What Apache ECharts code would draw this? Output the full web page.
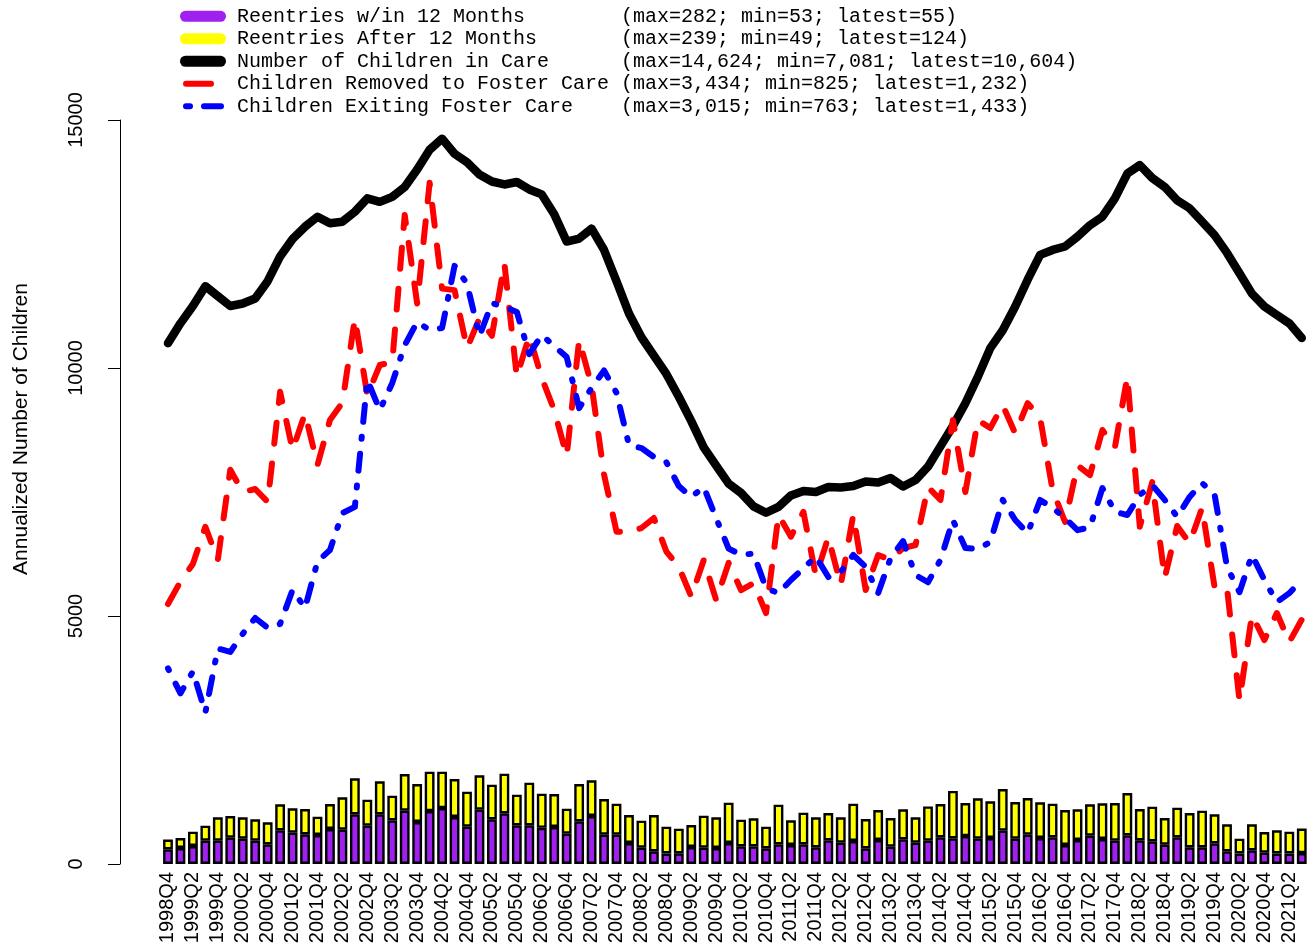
<!DOCTYPE html>
<html>
<head>
<meta charset="utf-8">
<script src="https://cdn.jsdelivr.net/npm/echarts@6/dist/echarts.min.js"></script>
<style>
  html, body { margin: 0; padding: 0; background: #fff; }
  #chart { width: 1308px; height: 949px; }
</style>
</head>
<body>
<div id="chart"></div>
<script>
// 季度
const quarters = [
  '1998Q4',
  '1999Q1', '1999Q2', '1999Q3', '1999Q4', '2000Q1', '2000Q2', '2000Q3', '2000Q4',
  '2001Q1', '2001Q2', '2001Q3', '2001Q4', '2002Q1', '2002Q2', '2002Q3', '2002Q4',
  '2003Q1', '2003Q2', '2003Q3', '2003Q4', '2004Q1', '2004Q2', '2004Q3', '2004Q4',
  '2005Q1', '2005Q2', '2005Q3', '2005Q4', '2006Q1', '2006Q2', '2006Q3', '2006Q4',
  '2007Q1', '2007Q2', '2007Q3', '2007Q4', '2008Q1', '2008Q2', '2008Q3', '2008Q4',
  '2009Q1', '2009Q2', '2009Q3', '2009Q4', '2010Q1', '2010Q2', '2010Q3', '2010Q4',
  '2011Q1', '2011Q2', '2011Q3', '2011Q4', '2012Q1', '2012Q2', '2012Q3', '2012Q4',
  '2013Q1', '2013Q2', '2013Q3', '2013Q4', '2014Q1', '2014Q2', '2014Q3', '2014Q4',
  '2015Q1', '2015Q2', '2015Q3', '2015Q4', '2016Q1', '2016Q2', '2016Q3', '2016Q4',
  '2017Q1', '2017Q2', '2017Q3', '2017Q4', '2018Q1', '2018Q2', '2018Q3', '2018Q4',
  '2019Q1', '2019Q2', '2019Q3', '2019Q4', '2020Q1', '2020Q2', '2020Q3', '2020Q4',
  '2021Q1', '2021Q2', '2021Q3'
];

// 12个月内再入（年化）
const reentriesWithin = [
  296, 323, 363, 470, 470, 531, 511, 470, 396, 679,
  632, 598, 585, 706, 692, 1001, 773, 1001, 880, 1075,
  847, 1068, 1128, 948, 753, 1095, 900, 1021, 780, 780,
  730, 746, 612, 860, 968, 591, 591, 423, 329, 255,
  212, 215, 343, 329, 323, 423, 356, 356, 316, 396,
  383, 396, 336, 477, 430, 464, 316, 484, 349, 497,
  430, 470, 538, 517, 564, 511, 524, 672, 511, 591,
  524, 538, 383, 484, 571, 504, 470, 578, 477, 457,
  390, 538, 336, 336, 417, 255, 212, 276, 228, 212,
  212, 220
];

// 12个月后再入（年化）
const reentriesAfter = [
  196, 201, 289, 303, 471, 437, 430, 430, 444, 524,
  490, 511, 369, 504, 652, 726, 524, 666, 498, 739,
  766, 793, 733, 766, 705, 692, 700, 800, 618, 860,
  688, 665, 504, 753, 719, 719, 625, 565, 545, 733,
  541, 497, 443, 645, 618, 814, 538, 565, 437, 800,
  497, 639, 605, 551, 511, 752, 591, 605, 578, 605,
  511, 690, 672, 956, 666, 813, 739, 840, 739, 740,
  719, 678, 706, 618, 632, 719, 760, 853, 632, 699,
  537, 598, 692, 739, 584, 545, 299, 524, 417, 467,
  440, 496
];

// 在册儿童数
const childrenInCare = [
  10500, 10900, 11250, 11650, 11450, 11250, 11300, 11400, 11750, 12250,
  12600, 12850, 13050, 12920, 12950, 13150, 13420, 13350, 13450, 13650,
  14000, 14400, 14624, 14320, 14150, 13900, 13760, 13700, 13750, 13600,
  13500, 13100, 12550, 12610, 12810, 12380, 11750, 11100, 10620, 10250,
  9880, 9420, 8930, 8400, 8030, 7670, 7480, 7210, 7081, 7200,
  7430, 7520, 7500, 7600, 7590, 7620, 7710, 7690, 7780, 7610,
  7740, 8010, 8420, 8830, 9290, 9820, 10400, 10760, 11240, 11780,
  12280, 12380, 12450, 12650, 12880, 13050, 13420, 13920, 14090, 13830,
  13650, 13380, 13220, 12950, 12680, 12320, 11910, 11500, 11240, 11070,
  10900, 10604
];

// 进入寄养（年化）
const childrenRemoved = [
  5242, 5692, 6050, 6800, 6130, 7950, 7500, 7560, 7300, 9520,
  8346, 9086, 8044, 8951, 9300, 11000, 9450, 10060, 10120, 13084,
  11300, 13736, 11600, 11570, 10400, 11000, 10650, 12110, 9824, 10650,
  9800, 9150, 8225, 10564, 9650, 7850, 6700, 6700, 6774, 6975,
  6300, 5990, 5390, 6129, 5320, 6070, 5520, 5660, 5060, 7036,
  6600, 7100, 5800, 6590, 5625, 7036, 5525, 6230, 6130, 6370,
  6431, 7600, 7338, 8950, 7500, 8950, 8790, 9250, 8680, 9290,
  9000, 7540, 6895, 8040, 7840, 8750, 8400, 9824, 6800, 7700,
  5766, 6815, 6470, 7180, 5585, 5565, 3300, 5020, 4515, 5060,
  4475, 4928
];

// 离开寄养（年化）
const childrenExiting = [
  3944, 3440, 3880, 3052, 4345, 4275, 4640, 4960, 4760, 4840,
  5524, 5160, 6100, 6330, 7076, 7200, 9757, 9150, 9697, 10460,
  10930, 10765, 10806, 12060, 11700, 10645, 11310, 11230, 11130, 10280,
  10665, 10443, 10220, 9190, 9600, 9950, 9500, 8447, 8386, 8205,
  8100, 7620, 7400, 7600, 6970, 6360, 6230, 6260, 5560, 5460,
  5725, 5960, 6200, 5785, 5890, 6230, 5990, 5460, 6170, 6510,
  5826, 5680, 6130, 6935, 6370, 6350, 6490, 7340, 6935, 6670,
  7340, 7180, 6975, 6730, 6790, 7580, 7100, 7036, 7440, 7640,
  7340, 7000, 7400, 7680, 7450, 5990, 5480, 6230, 5725, 5280,
  5460, 5732
];

const seriesNames = [
  'Reentries w/in 12 Months',
  'Reentries After 12 Months',
  'Number of Children in Care',
  'Children Removed to Foster Care',
  'Children Exiting Foster Care'
];
const legendStats = [
  '(max=282; min=53; latest=55)',
  '(max=239; min=49; latest=124)',
  '(max=14,624; min=7,081; latest=10,604)',
  '(max=3,434; min=825; latest=1,232)',
  '(max=3,015; min=763; latest=1,433)'
];
const yTicks = [0, 5000, 10000, 15000];
const yAxisTitle = 'Annualized Number of Children';

// 图例图标
const pillIcon = 'path://M0,0M52,11M5.5,0L40.5,0A5.5,5.5,0,0,1,40.5,11L5.5,11A5.5,5.5,0,0,1,5.5,0Z';
const dashIcon = 'path://M0,0M52,11M6,2.5L31,2.5A3,3,0,0,1,31,8.5L6,8.5A3,3,0,0,1,6,2.5Z';
const dotDashIcon = 'path://M0,0M52,11M6,2.5L10,2.5A3,3,0,0,1,10,8.5L6,8.5A3,3,0,0,1,6,2.5Z' +
  'M24,2.5L41,2.5A3,3,0,0,1,41,8.5L24,8.5A3,3,0,0,1,24,2.5Z';
const legendIcons = [pillIcon, pillIcon, pillIcon, dashIcon, dotDashIcon];

const axisFont = 'Liberation Sans';

const chart = echarts.init(document.getElementById('chart'));
chart.setOption({
  animation: false,
  backgroundColor: '#fff',
  legend: {
    orient: 'vertical',
    left: 180,
    top: 5,
    padding: 0,
    itemWidth: 52,
    itemHeight: 11,
    itemGap: 0,
    selectedMode: false,
    itemStyle: { borderWidth: 0 },
    textStyle: {
      fontFamily: 'Liberation Mono',
      fontSize: 20,
      lineHeight: 22.5,
      color: '#000'
    },
    formatter: name => name.padEnd(32, ' ') + legendStats[seriesNames.indexOf(name)],
    data: seriesNames.map((n, i) => ({ name: n, icon: legendIcons[i] }))
  },
  grid: {
    left: 161.75,
    right: -3.75,
    top: 120,
    bottom: 85
  },
  xAxis: {
    type: 'category',
    data: quarters,
    boundaryGap: true,
    axisLine: { show: false },
    axisTick: { show: false },
    axisLabel: {
      interval: 1,
      rotate: 90,
      margin: 8,
      fontSize: 20,
      fontFamily: axisFont,
      color: '#000'
    }
  },
  yAxis: {
    type: 'value',
    min: yTicks[0],
    max: yTicks[yTicks.length - 1],
    interval: yTicks[1] - yTicks[0],
    offset: 41.75,
    splitLine: { show: false },
    axisLine: { show: true, lineStyle: { color: '#000', width: 1 } },
    axisTick: { show: true, length: 12, lineStyle: { color: '#000', width: 1 } },
    axisLabel: {
      rotate: 90,
      margin: 34,
      fontSize: 20,
      fontFamily: axisFont,
      color: '#000',
      formatter: v => String(v)
    }
  },
  graphic: [{
    type: 'text',
    x: 21,
    y: 429,
    rotation: Math.PI / 2,
    style: {
      text: yAxisTitle,
      fontSize: 21,
      fontFamily: axisFont,
      fill: '#000',
      align: 'center',
      verticalAlign: 'middle'
    }
  }],
  series: [
    {
      name: seriesNames[0],
      type: 'bar',
      stack: 'reentry',
      barWidth: 9.8,
      color: '#A020F0',
      itemStyle: { color: '#A020F0', borderColor: '#000', borderWidth: 2.4 },
      data: reentriesWithin
    },
    {
      name: seriesNames[1],
      type: 'bar',
      stack: 'reentry',
      barWidth: 9.8,
      color: '#FFFF00',
      itemStyle: { color: '#FFFF00', borderColor: '#000', borderWidth: 2.4 },
      data: reentriesAfter
    },
    {
      name: seriesNames[2],
      type: 'line',
      symbol: 'none',
      color: '#000',
      lineStyle: { color: '#000', width: 8.5, cap: 'round', join: 'round' },
      data: childrenInCare
    },
    {
      name: seriesNames[3],
      type: 'line',
      symbol: 'none',
      color: '#FF0000',
      lineStyle: { color: '#FF0000', width: 6, type: [21, 20], cap: 'round', join: 'round' },
      data: childrenRemoved
    },
    {
      name: seriesNames[4],
      type: 'line',
      symbol: 'none',
      color: '#0000FF',
      lineStyle: { color: '#0000FF', width: 6, type: [2, 15, 17, 15], cap: 'round', join: 'round' },
      data: childrenExiting
    }
  ]
});
</script>
</body>
</html>
